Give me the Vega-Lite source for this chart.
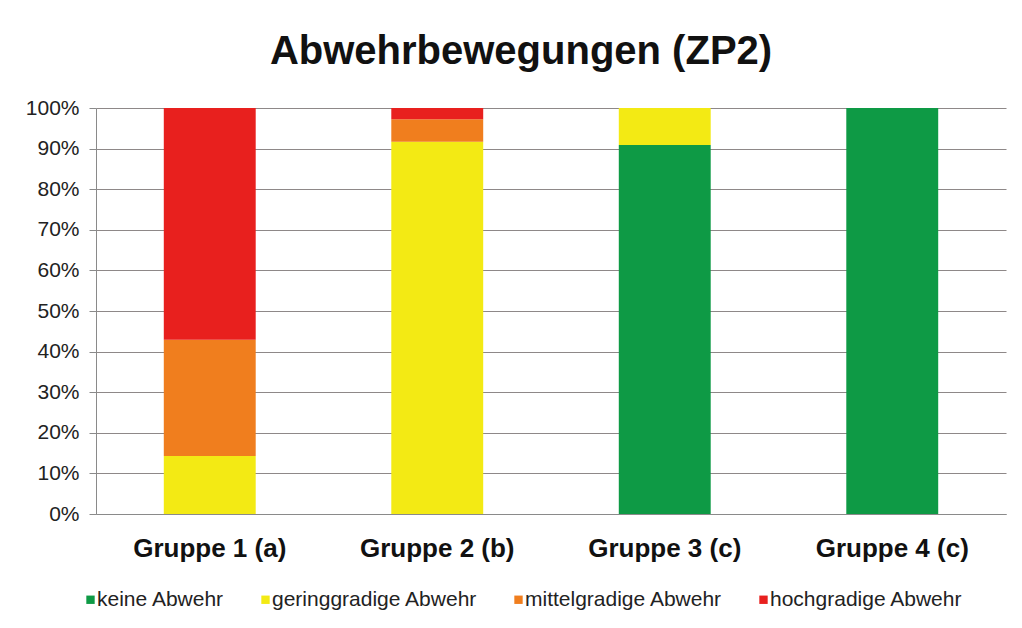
{
  "$schema": "https://vega.github.io/schema/vega-lite/v6.json",
  "width": 910,
  "height": 406,
  "autosize": {"type": "none"},
  "padding": {"left": 96, "top": 108, "right": 16, "bottom": 114},
  "background": "white",
  "title": {
    "text": "Abwehrbewegungen (ZP2)",
    "font": "Liberation Sans",
    "fontSize": 40,
    "fontWeight": "bold",
    "color": "#111111",
    "anchor": "middle",
    "dx": -30,
    "offset": 25
  },
  "data": {
    "values": [
      {"gruppe": "Gruppe 1 (a)", "kat": "keine Abwehr", "o": 1, "wert": 0},
      {"gruppe": "Gruppe 1 (a)", "kat": "geringgradige Abwehr", "o": 2, "wert": 14.3},
      {"gruppe": "Gruppe 1 (a)", "kat": "mittelgradige Abwehr", "o": 3, "wert": 28.6},
      {"gruppe": "Gruppe 1 (a)", "kat": "hochgradige Abwehr", "o": 4, "wert": 57.1},
      {"gruppe": "Gruppe 2 (b)", "kat": "keine Abwehr", "o": 1, "wert": 0},
      {"gruppe": "Gruppe 2 (b)", "kat": "geringgradige Abwehr", "o": 2, "wert": 91.7},
      {"gruppe": "Gruppe 2 (b)", "kat": "mittelgradige Abwehr", "o": 3, "wert": 5.5},
      {"gruppe": "Gruppe 2 (b)", "kat": "hochgradige Abwehr", "o": 4, "wert": 2.8},
      {"gruppe": "Gruppe 3 (c)", "kat": "keine Abwehr", "o": 1, "wert": 90.9},
      {"gruppe": "Gruppe 3 (c)", "kat": "geringgradige Abwehr", "o": 2, "wert": 9.1},
      {"gruppe": "Gruppe 3 (c)", "kat": "mittelgradige Abwehr", "o": 3, "wert": 0},
      {"gruppe": "Gruppe 3 (c)", "kat": "hochgradige Abwehr", "o": 4, "wert": 0},
      {"gruppe": "Gruppe 4 (c)", "kat": "keine Abwehr", "o": 1, "wert": 100},
      {"gruppe": "Gruppe 4 (c)", "kat": "geringgradige Abwehr", "o": 2, "wert": 0},
      {"gruppe": "Gruppe 4 (c)", "kat": "mittelgradige Abwehr", "o": 3, "wert": 0},
      {"gruppe": "Gruppe 4 (c)", "kat": "hochgradige Abwehr", "o": 4, "wert": 0}
    ]
  },
  "mark": {"type": "bar"},
  "encoding": {
    "x": {
      "field": "gruppe",
      "type": "nominal",
      "sort": null,
      "scale": {"paddingInner": 0.596, "paddingOuter": 0.298},
      "axis": {
        "title": null,
        "labelAngle": 0,
        "labelFont": "Liberation Sans",
        "labelFontSize": 26,
        "labelFontWeight": "bold",
        "labelColor": "#111111",
        "labelPadding": 21,
        "domainColor": "#8a8a8a",
        "ticks": false
      }
    },
    "y": {
      "field": "wert",
      "type": "quantitative",
      "stack": "normalize",
      "scale": {"domain": [0, 1], "nice": false},
      "axis": {
        "title": null,
        "format": ".0%",
        "values": [0, 0.1, 0.2, 0.3, 0.4, 0.5, 0.6, 0.7, 0.8, 0.9, 1],
        "labelOverlap": false,
        "labelFont": "Liberation Sans",
        "labelFontSize": 21,
        "labelColor": "#222222",
        "labelPadding": 10,
        "tickSize": 7,
        "tickColor": "#8a8a8a",
        "domainColor": "#8a8a8a",
        "gridColor": "#8e8888",
        "gridWidth": 1.2
      }
    },
    "color": {
      "field": "kat",
      "type": "nominal",
      "scale": {
        "domain": ["keine Abwehr", "geringgradige Abwehr", "mittelgradige Abwehr", "hochgradige Abwehr"],
        "range": ["#0e9a45", "#f3ea14", "#f07e1e", "#e8201e"]
      },
      "legend": {
        "title": null,
        "orient": "none",
        "legendX": -16,
        "legendY": 481,
        "direction": "horizontal",
        "columns": 4,
        "symbolType": "square",
        "symbolSize": 70,
        "symbolOffset": 0,
        "labelFont": "Liberation Sans",
        "labelFontSize": 21,
        "labelLimit": 500,
        "labelColor": "#222222",
        "labelOffset": -4,
        "columnPadding": 30
      }
    },
    "order": {"field": "o", "type": "quantitative"}
  },
  "config": {
    "view": {"stroke": null}
  }
}
